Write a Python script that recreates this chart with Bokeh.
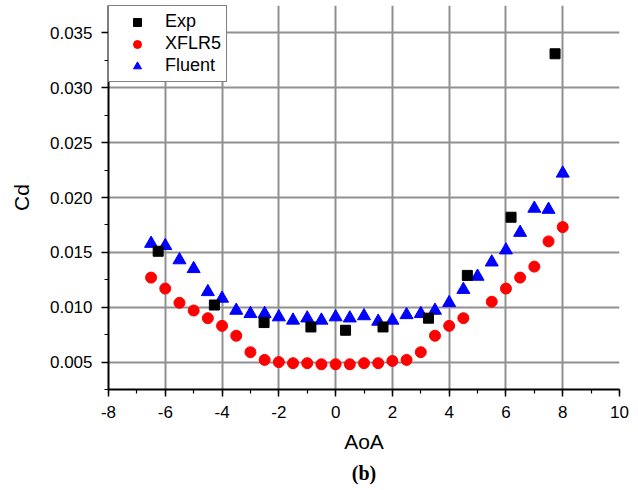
from bokeh.plotting import figure
from bokeh.models import (Range1d, SingleIntervalTicker, NumeralTickFormatter, Title,
                          Legend, LegendItem)
from bokeh.embed import file_html
from bokeh.resources import INLINE

# ---- data ----
aoa_exp = [-6.25, -4.27, -2.52, -0.87, 0.35, 1.67, 3.27, 4.64, 6.18, 7.73]
cd_exp = [0.0151, 0.0102, 0.0086, 0.0082, 0.0079, 0.0082, 0.0090, 0.0129, 0.0182, 0.0331]

aoa_xflr = [-6.5, -6.0, -5.5, -5.0, -4.5, -4.0, -3.5, -3.0, -2.5, -2.0, -1.5, -1.0, -0.5,
            0.0, 0.5, 1.0, 1.5, 2.0, 2.5, 3.0, 3.5, 4.0, 4.5, 5.5, 6.0, 6.5, 7.0, 7.5, 8.0]
cd_xflr = [0.0127, 0.0117, 0.0104, 0.0097, 0.0090, 0.0083, 0.0074, 0.0059, 0.0052, 0.0050,
           0.0049, 0.0049, 0.0048, 0.0048, 0.0048, 0.0049, 0.0049, 0.0051, 0.0052, 0.0059,
           0.0074, 0.0083, 0.0090, 0.0105, 0.0117, 0.0127, 0.0137, 0.0160, 0.0173]

aoa_fluent = [-6.5, -6.0, -5.5, -5.0, -4.5, -4.0, -3.5, -3.0, -2.5, -2.0, -1.5, -1.0, -0.5,
              0.0, 0.5, 1.0, 1.5, 2.0, 2.5, 3.0, 3.5, 4.0, 4.5, 5.0, 5.5, 6.0, 6.5, 7.0,
              7.5, 8.0]
cd_fluent = [0.0158, 0.0156, 0.0143, 0.0135, 0.0114, 0.0108, 0.0097, 0.0094, 0.0094, 0.0091,
             0.0088, 0.0090, 0.0088, 0.0091, 0.0090, 0.0092, 0.0087, 0.0088, 0.0093, 0.0094,
             0.0097, 0.0104, 0.0116, 0.0128, 0.0141, 0.0152, 0.0168, 0.0190, 0.0189, 0.0222]

x_label = "AoA"
y_label = "Cd"
sub_label = "(b)"

FONT = "Liberation Sans"

p = figure(width=630, height=488, output_backend="svg", toolbar_location=None,
           x_range=Range1d(-8, 10), y_range=Range1d(0.0025, 0.0375),
           min_border_left=108, min_border_right=11, min_border_top=5,
           min_border_bottom=99)
p.outline_line_color = None
p.background_fill_color = "white"
p.border_fill_color = "white"

# axes
p.xaxis.ticker = SingleIntervalTicker(interval=2, num_minor_ticks=2)
p.yaxis.ticker = SingleIntervalTicker(interval=0.005, num_minor_ticks=2)
p.xaxis.formatter = NumeralTickFormatter(format="0")
p.yaxis.formatter = NumeralTickFormatter(format="0.000")

p.xgrid.grid_line_color = "#909090"
p.ygrid.grid_line_color = "#909090"
p.xgrid.grid_line_width = 2
p.ygrid.grid_line_width = 2
p.xgrid.grid_line_alpha = 1.0
p.ygrid.grid_line_alpha = 1.0
p.xgrid.bounds = (-8, 8)

r_fl = p.scatter(aoa_fluent, cd_fluent, marker="triangle", size=13,
                 fill_color="blue", line_color="blue")
r_xf = p.scatter(aoa_xflr, cd_xflr, marker="circle", size=11,
                 fill_color="red", line_color="red")
r_ex = p.scatter(aoa_exp, cd_exp, marker="square", size=10,
                 fill_color="black", line_color="black")

for ax in (p.xaxis[0], p.yaxis[0]):
    ax.axis_line_width = 2
    ax.axis_line_color = "black"
    ax.major_tick_out = 7
    ax.major_tick_in = 0
    ax.minor_tick_out = 4
    ax.minor_tick_in = 0
    ax.major_tick_line_width = 1.5
    ax.minor_tick_line_width = 1.2
    ax.major_tick_line_color = "black"
    ax.minor_tick_line_color = "black"
    ax.major_label_text_font = FONT
    ax.major_label_text_font_size = "17px"
    ax.major_label_text_color = "black"
    ax.axis_label_text_font = FONT
    ax.axis_label_text_font_size = "21px"
    ax.axis_label_text_font_style = "normal"
    ax.axis_label_text_color = "black"
    ax.major_label_standoff = 9

p.xaxis.axis_label = x_label
p.yaxis.axis_label = y_label
p.xaxis.axis_label_standoff = 9
p.yaxis.axis_label_standoff = 14

legend = Legend(items=[LegendItem(label="Exp", renderers=[r_ex]),
                       LegendItem(label="XFLR5", renderers=[r_xf]),
                       LegendItem(label="Fluent", renderers=[r_fl])],
                location="top_left", margin=0, padding=5, spacing=1,
                glyph_width=46, glyph_height=20, label_height=20,
                label_standoff=5,
                label_text_font=FONT, label_text_font_size="18px",
                label_text_color="black",
                border_line_color="black", border_line_width=1.5,
                background_fill_color="white", background_fill_alpha=1.0)
p.add_layout(legend)

t = Title(text=sub_label, align="center", offset=-46, standoff=9,
          text_font="Liberation Serif", text_font_size="20px",
          text_font_style="bold", text_color="black")
p.add_layout(t, "below")

open("out.html", "w").write(file_html(p, INLINE))
